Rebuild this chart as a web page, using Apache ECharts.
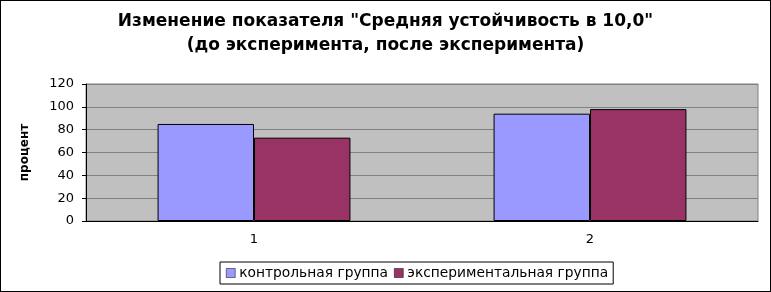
<!DOCTYPE html>
<html><head><meta charset="utf-8">
<script src="https://cdn.jsdelivr.net/npm/echarts@6/dist/echarts.min.js"></script>
<style>html,body{margin:0;padding:0;background:#fff}#c{width:771px;height:292px;box-sizing:border-box;border:1px solid #000}</style>
</head><body><div id="c"></div>
<script>
const categories = ['1', '2'];
const seriesNames = ['контрольная группа', 'экспериментальная группа'];
const controlValues = [85, 94];
const experimentValues = [73, 98];
const yTicks = [0, 20, 40, 60, 80, 100, 120];

const chart = echarts.init(document.getElementById('c'), null, {renderer: 'canvas'});
chart.setOption({
  animation: false,
  title: {
    text: 'Изменение показателя "Средняя устойчивость в 10,0"\n(до эксперимента, после эксперимента)',
    left: 'center', top: 4,
    textStyle: {fontFamily: 'DejaVu Sans', fontWeight: 'bold', fontSize: 17, lineHeight: 24, color: '#000'}
  },
  legend: {
    bottom: 7, left: 219,
    itemWidth: 9, itemHeight: 9, itemGap: 6,
    borderColor: '#000', borderWidth: 1, padding: [4, 5, 4, 6],
    icon: 'rect',
    textStyle: {fontFamily: 'DejaVu Sans', fontSize: 13.8, color: '#000', padding: [0, 0, 0, -1]},
    data: seriesNames.map(n => ({name: n, itemStyle: {borderColor: '#000', borderWidth: 0.5}}))
  },
  grid: {left: 85, right: 12, top: 83, bottom: 70, show: true, backgroundColor: '#C0C0C0', borderColor: '#808080', borderWidth: 1},
  xAxis: {
    type: 'category', data: categories,
    axisLine: {lineStyle: {color: '#000'}},
    axisTick: {show: false},
    axisLabel: {fontFamily: 'DejaVu Sans', fontSize: 13, color: '#000', margin: 12}
  },
  yAxis: {
    type: 'value', min: 0, max: 120, interval: 20,
    name: 'процент', nameLocation: 'middle', nameGap: 55, nameRotate: 90,
    nameTextStyle: {fontFamily: 'DejaVu Sans', fontWeight: 'bold', fontSize: 12, color: '#000'},
    axisLine: {show: true, lineStyle: {color: '#000'}},
    axisTick: {show: true, length: 4, lineStyle: {color: '#000'}},
    axisLabel: {fontFamily: 'DejaVu Sans', fontSize: 13, color: '#000', margin: 12,
      formatter: v => yTicks.includes(v) ? String(v) : ''},
    splitLine: {lineStyle: {color: '#808080', width: 1}}
  },
  series: [
    {name: seriesNames[0], type: 'bar', data: controlValues, barWidth: '28.7%', barGap: '0%',
      itemStyle: {color: '#9999FF', borderColor: '#000', borderWidth: 1}},
    {name: seriesNames[1], type: 'bar', data: experimentValues, barWidth: '28.7%',
      itemStyle: {color: '#993366', borderColor: '#000', borderWidth: 1}}
  ]
});
</script></body></html>
